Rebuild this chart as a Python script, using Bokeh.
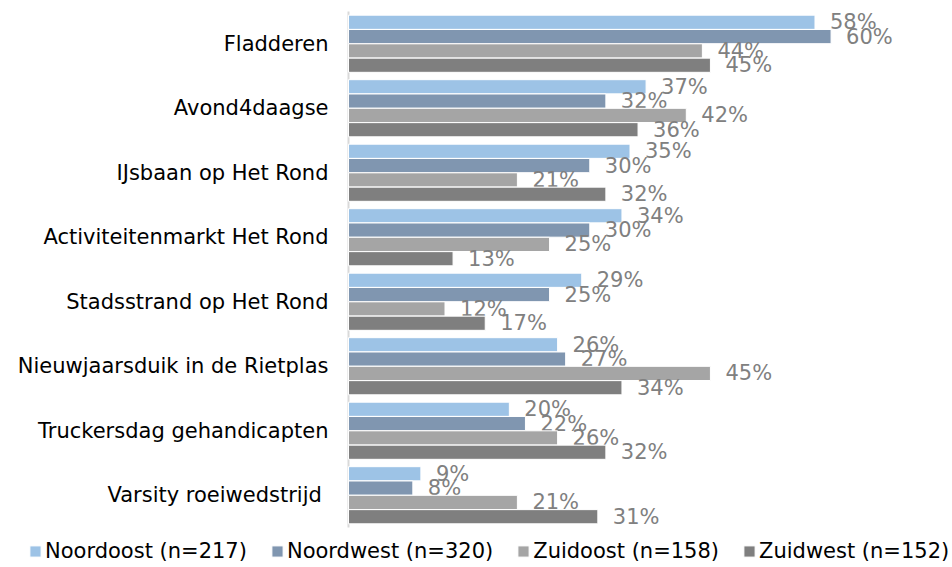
from bokeh.plotting import figure
from bokeh.models import ColumnDataSource, Legend, LegendItem, Range1d
from bokeh.embed import file_html
from bokeh.resources import INLINE
from bokeh.core.properties import value

categories = [
    "Fladderen",
    "Avond4daagse",
    "IJsbaan op Het Rond",
    "Activiteitenmarkt Het Rond",
    "Stadsstrand op Het Rond",
    "Nieuwjaarsduik in de Rietplas",
    "Truckersdag gehandicapten",
    "Varsity roeiwedstrijd ",
]
series_names = ["Noordoost (n=217)", "Noordwest (n=320)", "Zuidoost (n=158)", "Zuidwest (n=152)"]
noordoost = [58, 37, 35, 34, 29, 26, 20, 9]
noordwest = [60, 32, 30, 30, 25, 27, 22, 8]
zuidoost = [44, 42, 21, 25, 12, 45, 26, 21]
zuidwest = [45, 36, 32, 13, 17, 34, 32, 31]
series_values = [noordoost, noordwest, zuidoost, zuidwest]
colors = ["#9DC3E6", "#8096B0", "#A5A5A5", "#7F7F7F"]
offsets = [0.333, 0.111, -0.111, -0.333]

FONT = "DejaVu Sans"

# layout (pixels)
W, H = 948, 563
AXIS_PX = 348          # x pixel of the value axis
PX_PER_PCT = 563 / 70  # horizontal scale
TOP_PX = 11            # top of first category band
BAND_PX = 64.5         # category band height

n = len(categories)
ypos = [n - 1 - i for i in range(n)]  # first category on top
y_top = (n - 1) + (TOP_PX + BAND_PX / 2) / BAND_PX
y_bottom = y_top - H / BAND_PX

p = figure(
    width=W, height=H,
    x_range=Range1d(-AXIS_PX / PX_PER_PCT, (W - AXIS_PX) / PX_PER_PCT),
    y_range=Range1d(y_bottom, y_top),
    output_backend="svg", toolbar_location=None,
    min_border=0,
)
p.outline_line_color = None
p.xgrid.visible = False
p.ygrid.visible = False
p.xaxis.visible = False
p.yaxis.visible = False

# axis line
p.segment(x0=[0], y0=[-0.5], x1=[0], y1=[n - 0.5], line_color="#D9D9D9", line_width=2)

# category labels
cat_src = ColumnDataSource(dict(y=ypos, name=categories))
p.text(x=0, y="y", text="name", source=cat_src, x_offset=-20,
       text_align="right", text_baseline="middle",
       text_font=value(FONT), text_font_size="21px", text_color="#000000")

items = []
for name, vals, col, off in zip(series_names, series_values, colors, offsets):
    yy = [y + off for y in ypos]
    src = ColumnDataSource(dict(y=yy, val=vals, lab=[f"{v}%" for v in vals]))
    r = p.hbar(y="y", left=0, right="val", height=0.22,
               source=src, fill_color=col, line_color="white", line_width=1)
    p.text(x="val", y="y", text="lab", source=src,
           x_offset=15, text_align="left", text_baseline="middle",
           text_font=value(FONT), text_font_size="21px", text_color="#808080")
    items.append(LegendItem(label=name, renderers=[r]))

legend = Legend(items=items, orientation="horizontal", location=(28, 0),
                glyph_width=14, glyph_height=14, label_standoff=3, spacing=23,
                padding=0, margin=0, border_line_color=None, background_fill_alpha=0,
                label_text_font=FONT, label_text_font_size="21px", label_text_color="#000000")
p.add_layout(legend, "center")

open("out.html", "w").write(file_html(p, INLINE))
